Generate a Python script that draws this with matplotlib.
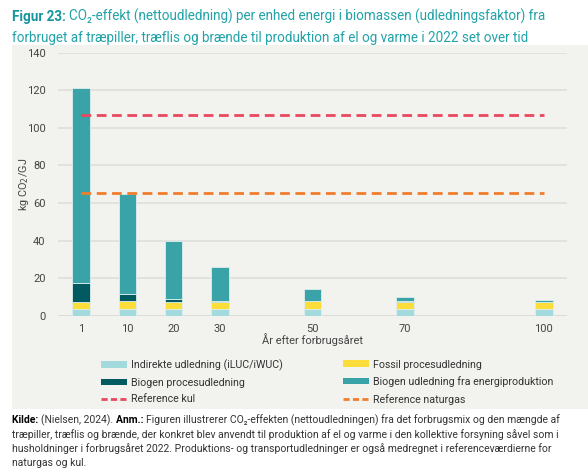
import numpy as np
import matplotlib
matplotlib.use('Agg')
import matplotlib.pyplot as plt
from matplotlib.patches import Rectangle, Patch
from matplotlib.lines import Line2D

plt.rcParams['font.family'] = ['Roboto', 'DejaVu Sans']

# data (kg CO2/GJ)
years = [1, 10, 20, 30, 50, 70, 100]
indirekte = [3.5, 3.5, 3.5, 3.5, 3.5, 3.5, 3.5]
fossil = [4.0, 4.2, 4.0, 4.0, 4.1, 4.0, 4.0]
biogen_proces = [10.1, 3.6, 1.5, 0.5, 0.2, 0.1, 0.0]
biogen_energi = [103.4, 53.3, 30.8, 17.9, 6.2, 2.3, 0.8]
ref_kul = 107.0
ref_naturgas = 65.3

labels = ['Indirekte udledning (iLUC/iWUC)', 'Fossil procesudledning',
          'Biogen procesudledning', 'Biogen udledning fra energiproduktion',
          'Reference kul', 'Reference naturgas']
colors = ['#a2dade', '#fddd3a', '#005a60', '#3aa3a8']
c_kul = '#e9485f'
c_gas = '#f07d2c'
bg = '#f2f2ee'
txt = '#444444'

W, H = 588, 472
fig = plt.figure(figsize=(W / 100, H / 100), dpi=100)
fig.patch.set_facecolor('white')

# grey panel behind the chart
fig.add_artist(Rectangle((12 / W, 1 - 409 / H), 1 - 12 / W, (409 - 45) / H,
                         transform=fig.transFigure, facecolor=bg, edgecolor='none', zorder=0))

ax = fig.add_axes([58 / W, 1 - 315.7 / H, 509 / W, 263 / H])
ax.set_facecolor(bg)
ax.patch.set_alpha(0)

x_pos = np.array(years) // 10 * 10  # the first bar sits at the start of the axis
series = [indirekte, fossil, biogen_proces, biogen_energi]
bottom = np.zeros(len(years))
for vals, c in zip(series, colors):
    ax.bar(x_pos, vals, width=3.8, bottom=bottom, color=c, edgecolor='#dfeeee',
           linewidth=0.6, zorder=3)
    bottom += np.array(vals)

ax.hlines(ref_kul, x_pos[0], x_pos[-1], colors=c_kul, linestyles=(0, (3.5, 2)), linewidth=2, zorder=4)
ax.hlines(ref_naturgas, x_pos[0], x_pos[-1], colors=c_gas, linestyles=(0, (3.5, 2)), linewidth=2, zorder=4)

ax.set_xlim(-5, 105)
ax.set_ylim(0, 140)
ax.set_yticks(np.arange(0, 141, 20))
ax.set_xticks(x_pos)
ax.set_xticklabels([str(y) for y in years])
ax.grid(axis='y', color='#dcdcd8', linewidth=1.1, zorder=0)
ax.axhline(0, color='#d6d6d2', linewidth=2, zorder=1)
for s in ax.spines.values():
    s.set_visible(False)
ax.tick_params(length=0, labelsize=8, labelcolor=txt)
ax.tick_params(axis='y', pad=9)
ax.tick_params(axis='x', pad=6)

ax.set_ylabel('kg CO$_2$/GJ', fontsize=7.8, color=txt)
ax.yaxis.set_label_coords(-(58 - 31) / 509, 0.5)
ax.set_xlabel('År efter forbrugsåret', fontsize=8.0, color=txt)
ax.xaxis.set_label_coords(0.5, -0.068)

# legend, two columns
h = [Patch(facecolor=colors[0]), Patch(facecolor=colors[1]),
     Patch(facecolor=colors[2]), Patch(facecolor=colors[3]),
     Line2D([], [], color=c_kul, linestyle=(0, (2.2, 1.2)), linewidth=2),
     Line2D([], [], color=c_gas, linestyle=(0, (2.2, 1.2)), linewidth=2)]
leg_kw = dict(frameon=False, fontsize=7.7, handlelength=2.4, handleheight=0.55,
              handletextpad=0.4, labelspacing=0.62, borderpad=0, borderaxespad=0,
              loc='upper left', labelcolor='#333333')
fig.legend([h[0], h[2], h[4]], [labels[0], labels[2], labels[4]],
           bbox_to_anchor=(101 / W, 1 - 359.5 / H), **leg_kw)
fig.legend([h[1], h[3], h[5]], [labels[1], labels[3], labels[5]],
           bbox_to_anchor=(343 / W, 1 - 359.5 / H), **leg_kw)

# title and note, built from pieces so bold and plain text can share a line
fig.canvas.draw()
rend = fig.canvas.get_renderer()


def run(pieces, x, y, size):
    for s, weight, col in pieces:
        t = fig.text(x / W, 1 - y / H, s, fontsize=size, fontweight=weight,
                     color=col, va='baseline', ha='left')
        x = t.get_window_extent(rend).x1


teal = '#21a3a8'
run([('Figur 23: ', 'bold', '#14969c'),
     ('CO₂-effekt (nettoudledning) per enhed energi i biomassen (udledningsfaktor) fra', 'normal', teal)],
    12, 21, 9.75)
run([('forbruget af træpiller, træflis og brænde til produktion af el og varme i 2022 set over tid', 'normal', teal)],
    12, 42, 9.75)

grey = '#333333'
fs = 7.5
run([('Kilde: ', 'bold', 'black'), ('(Nielsen, 2024). ', 'normal', grey), ('Anm.: ', 'bold', 'black'),
     ('Figuren illustrerer CO₂-effekten (nettoudledningen) fra det forbrugsmix og den mængde af', 'normal', grey)],
    12, 423, fs)
run([('træpiller, træflis og brænde, der konkret blev anvendt til produktion af el og varme i den kollektive forsyning såvel som i', 'normal', grey)],
    12, 437.5, fs)
run([('husholdninger i forbrugsåret 2022. Produktions- og transportudledninger er også medregnet i referenceværdierne for', 'normal', grey)],
    12, 452, fs)
run([('naturgas og kul.', 'normal', grey)], 12, 466.5, fs)

fig.savefig('out.png', dpi=100)
